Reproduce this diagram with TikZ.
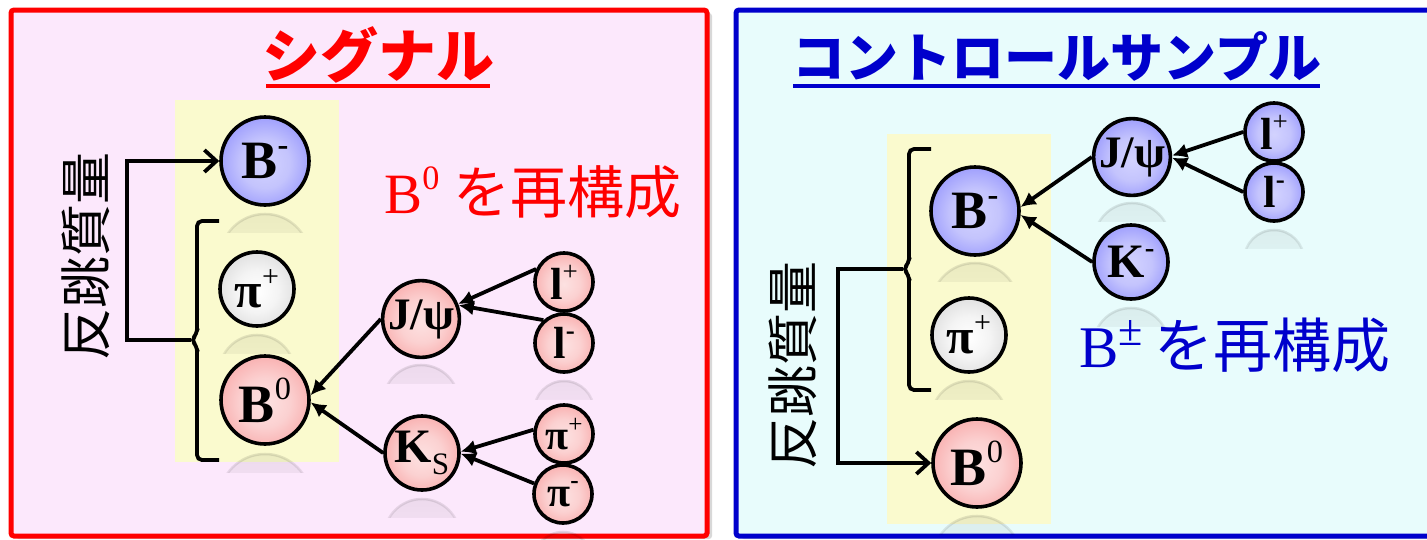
\documentclass[tikz,border=0pt]{standalone}
\usepackage{fontspec}
\setmainfont{Liberation Serif}
\newfontfamily\jp{Noto Sans CJK JP}
\usetikzlibrary{arrows.meta,shadows,fadings}
\definecolor{pinkbg}{RGB}{252,232,252}
\definecolor{cyanbg}{RGB}{232,252,252}
\definecolor{yel}{RGB}{250,250,206}
\definecolor{redline}{RGB}{255,0,0}
\definecolor{blueline}{RGB}{0,0,204}
\definecolor{bB}{RGB}{70,70,250}
\definecolor{bR}{RGB}{242,90,90}
\definecolor{bG}{RGB}{145,145,145}
\pgfdeclareradialshading{ballblue}{\pgfpoint{0bp}{-2bp}}{color(0bp)=(bB!24); color(14bp)=(bB!32); color(28bp)=(bB!55); color(38bp)=(bB!78); color(50bp)=(bB)}
\pgfdeclareradialshading{ballred}{\pgfpoint{0bp}{-2bp}}{color(0bp)=(bR!18); color(14bp)=(bR!28); color(28bp)=(bR!50); color(38bp)=(bR!75); color(50bp)=(bR)}
\pgfdeclareradialshading{ballgray}{\pgfpoint{0bp}{-2bp}}{color(0bp)=(white); color(14bp)=(bG!10); color(28bp)=(bG!30); color(38bp)=(bG!60); color(50bp)=(bG)}
\newcommand\sps[1]{\raisebox{0.42em}{\scalebox{0.6}{#1}}}
\newcommand\sbs[1]{\raisebox{-0.25em}{\scalebox{0.65}{\mdseries #1}}}
\tikzset{
  ball/.style={circle, draw=black, line width=3.6pt, inner sep=0pt, font=\bfseries\fontsize{54}{54}\selectfont},
  bigball/.style={ball, minimum size=88pt},
  midball/.style={ball, minimum size=74pt, font=\bfseries\fontsize{48}{48}\selectfont},
  smallball/.style={ball, minimum size=58pt, font=\bfseries\fontsize{45}{45}\selectfont},
  bl/.style={shading=ballblue},
  rd/.style={shading=ballred},
  gy/.style={shading=ballgray},
  conn/.style={line width=3.8pt, -{Latex[length=15pt,width=15pt]}},
  recoil/.style={line width=3.8pt, -{Straight Barb[length=12pt,width=22pt]}},
  brace/.style={line width=3.8pt, rounded corners=5pt},
  panel/.style={line width=5pt, rounded corners=3pt, drop shadow={shadow xshift=5pt, shadow yshift=-3pt, opacity=.3}},
  title/.style={font=\jp\bfseries\fontsize{58}{58}\selectfont, inner sep=0pt},
  reco/.style={font=\fontsize{57}{57}\selectfont, inner sep=0pt},
  vert/.style={font=\jp\fontsize{52}{52}\selectfont, rotate=90, inner sep=0pt},
}
\begin{document}
\begin{tikzpicture}[x=1pt,y=-1pt]
\useasboundingbox (0,0) rectangle (1427,539);
\fill[white] (0,0) rectangle (1427,539);
% panels
\draw[panel, draw=redline, fill=pinkbg] (11,10) rectangle (707,536);
\draw[panel, draw=blueline, fill=cyanbg] (736,10) rectangle (1470,536);
\fill[yel] (175,100) rectangle (339,462);
\fill[yel] (887,134) rectangle (1051,524);
% reflections
\foreach \x/\y/\rr in {265/161/45, 257/289/38, 265/400/46, 421/319/38, 564/343/30, 422/453/38, 563/494/30,
  975/211/44, 969/335/38, 977/463/45, 1132/157/38, 1131/262/38, 1274/192/30}{
  \begin{scope}
    \clip (\x-\rr,\y+\rr+4) rectangle (\x+\rr,\y+\rr+26);
    \fill[black, opacity=0.06, path fading=south] (\x,\y+2*\rr+8) circle (\rr);
    \draw[black, line width=2.5pt, opacity=0.1, path fading=south] (\x,\y+2*\rr+8) circle (\rr);
  \end{scope}
}
% titles
\node[title, text=redline] (t1) at (378,55) {シグナル};
\draw[redline, line width=4pt] (266,86) -- (490,86);
\node[title, text=blueline, font=\jp\bfseries\fontsize{53}{53}\selectfont] (t2) at (1057,56) {コントロールサンプル};
\draw[blueline, line width=4pt] (793,86) -- (1320,86);
% reconstruction labels
\node[reco, text=redline] (r1) at (533,192) {B\sps{0} {\jp を再構成}};
\node[reco, text=blueline, font=\fontsize{59}{59}\selectfont] (r2) at (1235,345) {B\raisebox{0.36em}{\scalebox{0.75}{±}}\hspace{0.2em}{\jp を再構成}};
% vertical labels
\node[vert] (v1) at (86,256) {反跳質量};
\node[vert] (v2) at (793,365) {反跳質量};
% left balls
\node[bigball, bl] (Bm1) at (265,161) {B\sps{-}};
\node[midball, gy, font=\bfseries\fontsize{50}{50}\selectfont] (pi1) at (257,289) {π\sps{\mdseries +}};
\node[bigball, rd] (B01) at (265,400) {B\sps{\mdseries 0}};
\node[midball, rd, font=\bfseries\fontsize{45}{45}\selectfont] (Jp1) at (421,319) {J/ψ};
\node[smallball, rd] (lp1) at (564,282) {l\sps{\mdseries +}};
\node[smallball, rd] (lm1) at (564,343) {l\sps{-}};
\node[midball, rd] (Ks1) at (422,453) {K\sbs{S}};
\node[smallball, rd, font=\bfseries\fontsize{42}{42}\selectfont] (pp1) at (564,434) {π\sps{\mdseries +}};
\node[smallball, rd, font=\bfseries\fontsize{42}{42}\selectfont] (pm1) at (563,494) {π\sps{-}};
% right balls
\node[bigball, bl] (Bm2) at (975,211) {B\sps{-}};
\node[midball, gy, font=\bfseries\fontsize{50}{50}\selectfont] (pi2) at (969,335) {π\sps{\mdseries +}};
\node[bigball, rd] (B02) at (977,463) {B\sps{\mdseries 0}};
\node[midball, bl, font=\bfseries\fontsize{45}{45}\selectfont] (Jp2) at (1132,157) {J/ψ};
\node[midball, bl] (Km2) at (1131,262) {K\sps{-}};
\node[smallball, bl] (lp2) at (1274,132) {l\sps{\mdseries +}};
\node[smallball, bl] (lm2) at (1274,192) {l\sps{-}};
% decay connectors
\draw[conn] (Jp1.west) -- (B01.6);
\draw[conn] (Ks1.west) -- (B01.-3);
\draw[conn] (lp1.155) -- (Jp1.22);
\draw[conn] (lm1.132) -- (Jp1.20);
\draw[conn] (pp1.172) -- (Ks1.2);
\draw[conn] (pm1.160) -- (Ks1.-1);
\draw[conn] (Jp2.west) -- (Bm2.5);
\draw[conn] (Km2.west) -- (Bm2.-5);
\draw[conn] (lp2.west) -- (Jp2.2);
\draw[conn] (lm2.west) -- (Jp2.-1);
% braces and recoil arrows
\coordinate (bm1) at (191,340);
\draw[brace] (219,221) -- (197,221) -- (197,334) -- (bm1) -- (197,346) -- (197,460) -- (219,460);
\draw[recoil] (bm1) -- (127,340) -- (127,161) -- (Bm1.west);
\coordinate (bm2) at (903,269);
\draw[brace] (931,149) -- (909,149) -- (909,263) -- (bm2) -- (909,275) -- (909,390) -- (931,390);
\draw[recoil] (bm2) -- (838,269) -- (838,463) -- (B02.west);
\end{tikzpicture}
\end{document}
